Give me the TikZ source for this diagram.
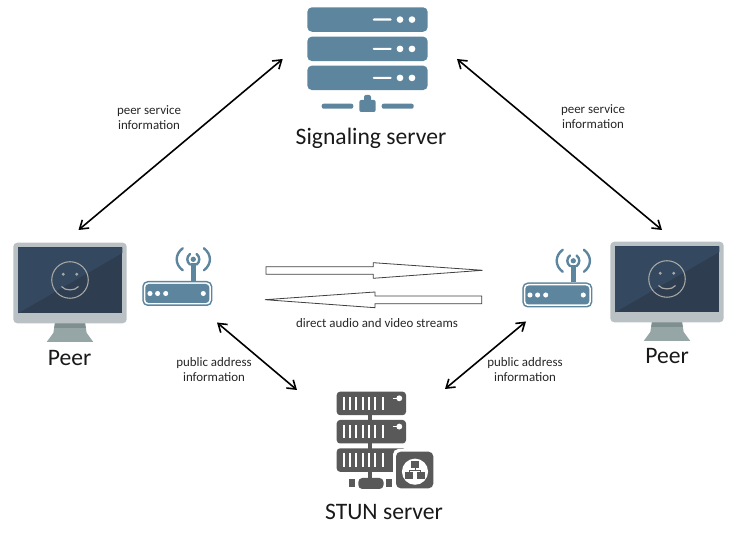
\documentclass[tikz,border=0pt]{standalone}
\usepackage{fontspec}
\usetikzlibrary{arrows.meta}
\setmainfont{Carlito}
\definecolor{srvblue}{HTML}{5D859E}
\definecolor{rackgray}{HTML}{595959}
\definecolor{bezel}{HTML}{BAC1C4}
\definecolor{standcol}{HTML}{96A5A5}
\definecolor{standdark}{HTML}{7F8F8F}
\definecolor{scrA}{HTML}{34495F}
\definecolor{scrB}{HTML}{2E3D50}
\definecolor{facecol}{HTML}{A8A8A4}
\tikzset{
  small label/.style={font=\fontsize{9.7}{11.3}\selectfont,align=center,text=black!85,inner sep=0pt},
  big label/.style={font=\fontsize{17.7}{21}\selectfont,text=black!90,inner sep=0pt},
  link/.style={black,line width=1.2pt,{Straight Barb[length=6pt,width=8pt,line width=1.2pt]}-{Straight Barb[length=6pt,width=8pt,line width=1.2pt]}},
  stream/.style={draw=black!75,fill=white,line width=.6pt,line join=miter},
}
\newcommand{\srvrack}[1]{%
  \fill[srvblue,rounded corners=3.5pt] (307.3,#1) rectangle ++(120.4,24.5);
  \fill[white,rounded corners=.8pt] (372.7,#1+11.2) rectangle ++(19,2.2);
  \fill[white] (400,#1+12.3) circle (2.5pt) (412,#1+12.3) circle (2.5pt);
}
\newcommand{\monitor}[2]{%
  \begin{scope}[shift={(#1,#2)}]
    \fill[standcol] (55,323) -- (53.3,333) -- (46.7,342) -- (93.3,342) -- (86.7,333) -- (85,323) -- cycle;
    \fill[standdark] (55,323) -- (85,323) -- (85.8,328) -- (54.2,328) -- cycle;
    \fill[bezel,rounded corners=3pt] (13.3,242.7) rectangle (126.7,323.3);
    \fill[scrB] (18,247.3) rectangle (122.3,313.3);
    \fill[scrA] (18,247.3) -- (122.3,247.3) -- (122.3,253) -- (18,313.3) -- cycle;
    \draw[facecol,line width=.8pt] (70,280) circle (13.7pt);
    \fill[facecol] (63.3,274.3) circle (1.2pt) (76.7,274.3) circle (1.2pt);
    \draw[facecol,line width=.9pt,line cap=round] (61.7,286.7) .. controls (65,291) and (75,291) .. (78.3,286.7);
  \end{scope}
}
\newcommand{\router}[2]{%
  \begin{scope}[shift={(#1,#2)}]
    \fill[srvblue,rounded corners=4pt] (142.3,281) rectangle (212.3,306);
    \fill[white,rounded corners=3.2pt] (143.8,282.5) rectangle (210.8,304.5);
    \fill[srvblue,rounded corners=2.6pt] (145.3,284) rectangle (209.3,303);
    \fill[white] (150,293.5) circle (1.9pt) (157.6,293.5) circle (1.9pt) (165.7,293.5) circle (1.9pt) (203.3,293.5) circle (1.9pt);
    \fill[srvblue] (190.9,263.3) rectangle (195.7,281);
    \fill[srvblue] (193.3,259.3) circle (2pt);
    \draw[srvblue,line width=1.8pt,line cap=round]
      (182.7,248.3) .. controls (174.7,254.3) and (174.7,264.3) .. (182.7,270.3)
      (203.9,248.3) .. controls (211.9,254.3) and (211.9,264.3) .. (203.9,270.3)
      (190,254) .. controls (186.4,257) and (186.4,261.6) .. (190,264.6)
      (196.6,254) .. controls (200.2,257) and (200.2,261.6) .. (196.6,264.6);
  \end{scope}
}
\newcommand{\stunrack}[1]{%
  \fill[rackgray,rounded corners=2.5pt] (336.7,#1) rectangle ++(69.3,23.5);
  \foreach \sx in {342.7,349,355.3,361.7,368,374.3,381.7}
    \fill[white] (\sx,#1+5) rectangle ++(2,13.3);
}
\begin{document}
\begin{tikzpicture}[x=.75pt,y=-.75pt]
\useasboundingbox (0,0) rectangle (740,555);
% signaling server icon
\srvrack{7.3}\srvrack{36.6}\srvrack{65.6}
\fill[srvblue,rounded corners=1.5pt] (321.7,103.7) rectangle (353.3,108.7);
\fill[srvblue,rounded corners=1.5pt] (381.7,103.7) rectangle (413.7,108.7);
\fill[srvblue,rounded corners=1.5pt] (359.3,100) rectangle (375.7,112);
\fill[srvblue,rounded corners=1.5pt] (364,95) rectangle (371,102);
\node[big label] (sigtext) at (371,138) {Signaling server};
% peers
\monitor{0}{0}
\monitor{597}{-1}
\router{0}{0}
\router{380}{1.5}
\node[big label] (peerL) at (69.5,358) {Peer};
\node[big label] (peerR) at (667,356) {Peer};
% stun server icon
\fill[rackgray] (368,415) rectangle (372,480);
\stunrack{391.7}\stunrack{420}\stunrack{448.3}
\foreach \ry in {398.3,426.6}{
  \fill[white] (399.3,\ry) circle (2.2pt);
  \fill[white] (393,\ry-.6) rectangle (398,\ry+.6);
}
\fill[rackgray,rounded corners=3pt] (358.3,478) rectangle (383.5,489);
\fill[rackgray] (349.3,479.3) rectangle (355,487.3);
\fill[rackgray] (386,479.3) rectangle (391.7,487.3);
\fill[white,rounded corners=4pt] (393,449) rectangle (436,491);
\fill[rackgray,rounded corners=3.5pt] (396,451.7) rectangle (433.3,488.3);
\fill[white] (415,471.7) circle (9.8pt);
\fill[rackgray] (411,461) rectangle (419,468);
\fill[rackgray] (405.3,472.5) rectangle (413.3,479.5);
\fill[rackgray] (416.7,472.5) rectangle (424.7,479.5);
\draw[rackgray,line width=.6pt] (415,468) -- (415,470.5) (409.3,472.5) -- (409.3,470.5) -- (420.7,470.5) -- (420.7,472.5);
\node[big label] (stuntext) at (384,512) {STUN server};
% end points
\coordinate (aL) at (78.5,230);
\coordinate (aT1) at (282.7,59);
\coordinate (aT2) at (457,59);
\coordinate (aR) at (662,230);
\coordinate (bL) at (217,322.5);
\coordinate (bS1) at (297,390);
\coordinate (bS2) at (445,389);
\coordinate (bR) at (526,321.5);
\draw[link] (aL) -- (aT1);
\draw[link] (aT2) -- (aR);
\draw[link] (bL) -- (bS1);
\draw[link] (bS2) -- (bR);
% streams
\draw[stream] (266,266.7) -- (373.3,266.7) -- (373.3,262.7) -- (482.7,270.3) -- (373.3,278.3) -- (373.3,274.3) -- (266,274.3) -- cycle;
\draw[stream] (481.7,296) -- (375,296) -- (375,292) -- (265,299.7) -- (375,307.7) -- (375,303.7) -- (481.7,303.7) -- cycle;
% labels
\node[small label] (t1) at (149,117.5) {peer service\\information};
\node[small label] (t2) at (593,116.5) {peer service\\information};
\node[small label] (t3) at (377,323) {direct audio and video streams};
\node[small label] (t4) at (214,370) {public address\\information};
\node[small label] (t5) at (525,370) {public address\\information};
\end{tikzpicture}
\end{document}
